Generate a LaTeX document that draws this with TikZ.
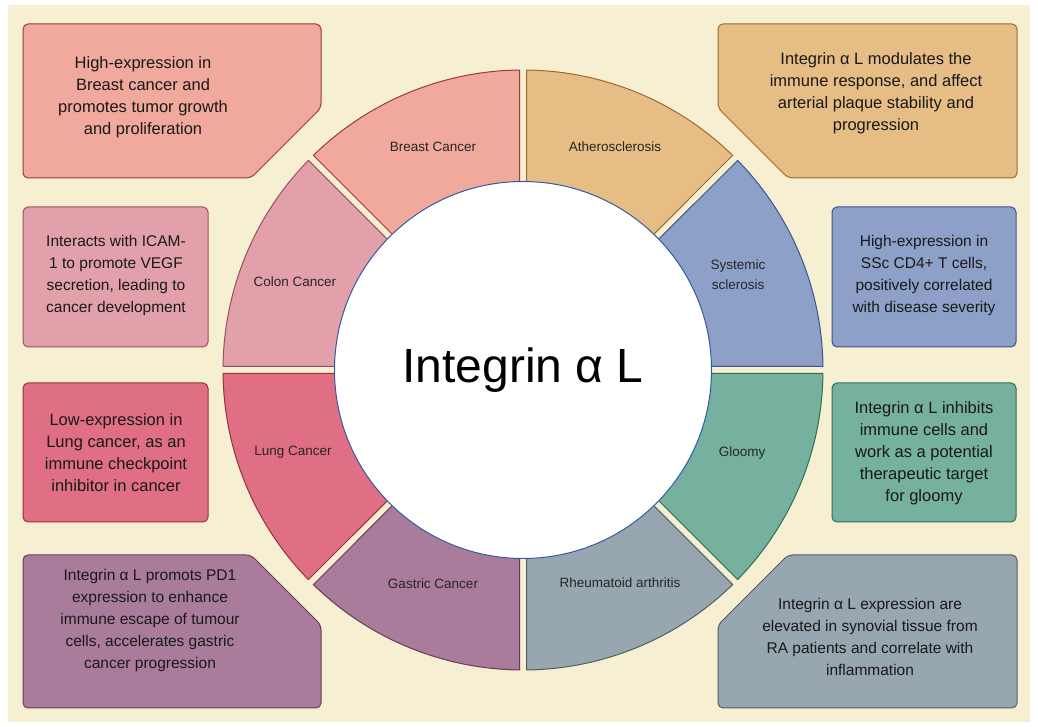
\documentclass[tikz,border=0pt]{standalone}
\usepackage{fontspec}
\setmainfont{Liberation Sans}
\begin{document}
\begin{tikzpicture}[x=1pt,y=1pt,
  box/.style={rounded corners=5pt,line width=1pt},
  btxt/.style={align=center,font=\fontsize{16.5}{22}\selectfont,text=black!90},
  stxt/.style={align=center,font=\fontsize{13.5}{20}\selectfont,text=black!85}]
\definecolor{cream}{HTML}{F7EFD2}
\useasboundingbox (0,0) rectangle (1038,727);
\fill[white] (0,0) rectangle (1038,727);
\fill[cream] (8,5) rectangle (1030,722);
\coordinate (c) at (523,357);
% sectors
\def\R{300}
\newcommand{\mysector}[4]{%
 \filldraw[fill=#3,draw=#4,line width=1pt]
  ($(c)+(#1:150)+(#1+90:3.5)$) -- ($(c)+(#1+0.67:\R)$)
  arc[start angle=#1+0.67,end angle=#2-0.67,radius=\R]
  -- ($(c)+(#2:150)+(#2-90:3.5)$) -- cycle;}
\usetikzlibrary{calc}
\definecolor{bF}{HTML}{F0A99C}\definecolor{bD}{HTML}{9B3B36}
\definecolor{aF}{HTML}{E6BD85}\definecolor{aD}{HTML}{A0682E}
\definecolor{sF}{HTML}{8DA0C8}\definecolor{sD}{HTML}{3A5490}
\definecolor{gF}{HTML}{76B09E}\definecolor{gD}{HTML}{2E6E5A}
\definecolor{rF}{HTML}{98A6AF}\definecolor{rD}{HTML}{4E5E68}
\definecolor{qF}{HTML}{AA7C9C}\definecolor{qD}{HTML}{6A3A5A}
\definecolor{lF}{HTML}{E06E85}\definecolor{lD}{HTML}{9A2E42}
\definecolor{cF}{HTML}{E1A0AA}\definecolor{cD}{HTML}{9A5060}
\mysector{90}{135}{bF}{bD}
\mysector{45}{90}{aF}{aD}
\mysector{0}{45}{sF}{sD}
\mysector{-45}{0}{gF}{gD}
\mysector{-90}{-45}{rF}{rD}
\mysector{-135}{-90}{qF}{qD}
\mysector{180}{225}{lF}{lD}
\mysector{135}{180}{cF}{cD}
\node[circle,fill=white,draw={rgb,255:red,50;green,90;blue,160},line width=1pt,minimum size=377pt,inner sep=0pt] (ctr) at (c) {};
\node[font=\fontsize{48}{50}\selectfont] (title) at (c) {Integrin α L};
% sector labels
\node[stxt] (l1) at (433,580) {Breast Cancer};
\node[stxt] (l2) at (615,580) {Atherosclerosis};
\node[stxt] (l3) at (738,452) {Systemic\\sclerosis};
\node[stxt] (l4) at (742,274) {Gloomy};
\node[stxt] (l5) at (620,144) {Rheumatoid arthritis};
\node[stxt] (l6) at (433,143) {Gastric Cancer};
\node[stxt] (l7) at (293,275) {Lung Cancer};
\node[stxt] (l8) at (295,445) {Colon Cancer};
% boxes
\filldraw[box,fill=bF,draw=bD] (23,703) -- (321,703) -- (321,619) -- (251,549) -- (23,549) -- cycle;
\node[btxt] (t1) at (143,630) {High-expression in\\Breast cancer and\\promotes tumor growth\\and proliferation};
\filldraw[box,fill=aF,draw=aD] (718,703) -- (1017,703) -- (1017,549) -- (788,549) -- (718,619) -- cycle;
\node[btxt] (t2) at (876,634) {Integrin α L modulates the\\immune response, and affect\\arterial plaque stability and\\progression};
\filldraw[box,fill=cF,draw=cD] (23,520) rectangle (208,380);
\node[btxt,font=\fontsize{15.5}{22}\selectfont] (t3) at (116,451) {Interacts with ICAM-\\1 to promote VEGF\\secretion, leading to\\cancer development};
\filldraw[box,fill=sF,draw=sD] (832,520) rectangle (1016,380);
\node[btxt,font=\fontsize{15.5}{22}\selectfont] (t4) at (924,451) {High-expression in\\SSc CD4+ T cells,\\positively correlated\\with disease severity};
\filldraw[box,fill=lF,draw=lD] (23,344) rectangle (208,205);
\node[btxt] (t5) at (116,274) {Low-expression in\\Lung cancer, as an\\immune checkpoint\\inhibitor in cancer};
\filldraw[box,fill=gF,draw=gD] (832,344) rectangle (1016,205);
\node[btxt] (t6) at (924,274) {Integrin α L inhibits\\immune cells and\\work as a potential\\therapeutic target\\for gloomy};
\filldraw[box,fill=qF,draw=qD] (23,172) -- (251,172) -- (321,102) -- (321,19) -- (23,19) -- cycle;
\node[btxt,font=\fontsize{15.5}{22}\selectfont] (t7) at (150,107) {Integrin α L promots PD1\\expression to enhance\\immune escape of tumour\\cells, accelerates gastric\\cancer progression};
\filldraw[box,fill=rF,draw=rD] (788,172) -- (1017,172) -- (1017,19) -- (718,19) -- (718,102) -- cycle;
\node[btxt,font=\fontsize{15.5}{22}\selectfont] (t8) at (870,90) {Integrin α L expression are\\elevated in synovial tissue from\\RA patients and correlate with\\inflammation};
\end{tikzpicture}
\end{document}
